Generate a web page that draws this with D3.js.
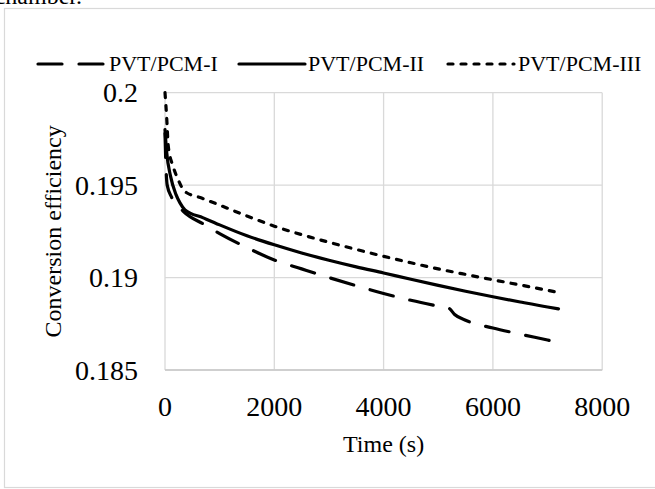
<!DOCTYPE html>
<html>
<head>
<meta charset="utf-8">
<script src="https://cdn.jsdelivr.net/npm/d3@7"></script>
<style>
  html, body { margin: 0; padding: 0; background: #fff; }
  svg { display: block; font-family: "Liberation Serif", "Times New Roman", serif; }
</style>
</head>
<body>
<svg id="chart" width="655" height="489"></svg>
<script>
// Conversion efficiency of the three PVT/PCM configurations over time
const seriesNames = ["PVT/PCM-I", "PVT/PCM-II", "PVT/PCM-III"];

const timeI = [0, 15, 40, 120, 330, 730, 1000, 1500, 2000, 2500, 3000, 3500, 4000, 4500, 5000, 5200, 5300, 5500, 6000, 6500, 7000, 7200];
const effI  = [0.1978, 0.1962, 0.1950, 0.19435, 0.19360, 0.19285, 0.19238, 0.19162, 0.19095, 0.19047, 0.19000, 0.18956, 0.18914, 0.18877, 0.18845, 0.18833, 0.18800, 0.18769, 0.18727, 0.18694, 0.18662, 0.18649];

const timeII = [0, 30, 100, 200, 274, 366, 700, 1000, 1500, 2000, 2500, 3000, 3500, 4000, 4500, 5000, 5500, 6000, 6500, 7000, 7200];
const effII  = [0.1980, 0.1968, 0.1955, 0.1945, 0.19404, 0.19366, 0.19323, 0.19285, 0.19226, 0.19177, 0.19133, 0.19094, 0.19058, 0.19025, 0.18991, 0.18958, 0.18926, 0.18896, 0.18868, 0.18841, 0.18831];

const timeIII = [0, 30, 60, 150, 240, 366, 670, 1000, 1500, 2000, 2500, 3000, 3500, 4000, 4500, 5000, 5500, 6000, 6500, 7000, 7200];
const effIII  = [0.2000, 0.1987, 0.1971, 0.1960, 0.1953, 0.19465, 0.19430, 0.19392, 0.19333, 0.19278, 0.19232, 0.19191, 0.19152, 0.19115, 0.19080, 0.19047, 0.19017, 0.18988, 0.18960, 0.18931, 0.18919];

const xTicks = [0, 2000, 4000, 6000, 8000];
const yTicks = [0.185, 0.19, 0.195, 0.2];
const yTickLabels = ["0.185", "0.19", "0.195", "0.2"];

const svg = d3.select("#chart");

// Caption line of the surrounding text, cut by the top edge
svg.append("text")
  .attr("x", 82).attr("y", 4)
  .attr("text-anchor", "end")
  .attr("font-size", 24)
  .attr("fill", "#000")
  .text("chamber.");

// Chart frame
svg.append("rect")
  .attr("x", 4.5).attr("y", 8.5)
  .attr("width", 700).attr("height", 479)
  .attr("fill", "none")
  .attr("stroke", "#d9d9d9")
  .attr("stroke-width", 1.2);

const x = d3.scaleLinear().domain([0, 8000]).range([165, 602.2]);
const y = d3.scaleLinear().domain([0.185, 0.2]).range([370, 92.7]);

// Gridlines
const grid = svg.append("g");
grid.selectAll("line.h").data(yTicks).join("line")
  .attr("x1", x(0)).attr("x2", x(8000))
  .attr("y1", d => y(d)).attr("y2", d => y(d))
  .attr("stroke", "#d9d9d9").attr("stroke-width", 1.3);
grid.selectAll("line.v").data(xTicks).join("line")
  .attr("x1", d => x(d)).attr("x2", d => x(d))
  .attr("y1", y(0.2)).attr("y2", y(0.185))
  .attr("stroke", "#d9d9d9").attr("stroke-width", 1.3);
// Horizontal axis line
svg.append("line")
  .attr("x1", x(0)).attr("x2", x(8000))
  .attr("y1", y(0.185)).attr("y2", y(0.185))
  .attr("stroke", "#c8c8c8").attr("stroke-width", 1.6);

// Tick labels
svg.append("g").selectAll("text").data(yTicks).join("text")
  .attr("x", 138).attr("y", d => y(d) + 9.5)
  .attr("text-anchor", "end")
  .attr("font-size", 28)
  .text((d, i) => yTickLabels[i]);

svg.append("g").selectAll("text").data(xTicks).join("text")
  .attr("x", d => x(d)).attr("y", 416)
  .attr("text-anchor", "middle")
  .attr("font-size", 28)
  .text(d => d);

// Axis titles
svg.append("text")
  .attr("x", (x(0) + x(8000)) / 2).attr("y", 452)
  .attr("text-anchor", "middle")
  .attr("font-size", 24)
  .text("Time (s)");

svg.append("text")
  .attr("transform", `translate(61, ${(y(0.2) + y(0.185)) / 2}) rotate(-90)`)
  .attr("text-anchor", "middle")
  .attr("font-size", 24)
  .text("Conversion efficiency");

// Series lines
const styles = [
  { dash: "24,17", cap: "round" },
  { dash: null, cap: "round" },
  { dash: "5,8", cap: "round" }
];
const series = [
  d3.zip(timeI, effI),
  d3.zip(timeII, effII),
  d3.zip(timeIII, effIII)
];

const line = d3.line()
  .x(d => x(d[0]))
  .y(d => y(d[1]))
  .curve(d3.curveMonotoneX);

const plot = svg.append("g");
series.forEach((pts, i) => {
  plot.append("path")
    .datum(pts)
    .attr("d", line)
    .attr("fill", "none")
    .attr("stroke", "#000")
    .attr("stroke-width", 3.2)
    .attr("stroke-linecap", styles[i].cap)
    .attr("stroke-linejoin", "round")
    .attr("stroke-dasharray", styles[i].dash);
});

// Legend
const legendItems = [
  { x1: 38, x2: 107, tx: 109 },
  { x1: 239, x2: 305, tx: 308 },
  { x1: 448, x2: 514, tx: 518 }
];
const legend = svg.append("g");
legendItems.forEach((it, i) => {
  legend.append("line")
    .attr("x1", it.x1).attr("x2", it.x2)
    .attr("y1", 64).attr("y2", 64)
    .attr("stroke", "#000")
    .attr("stroke-width", 3.2)
    .attr("stroke-linecap", styles[i].cap)
    .attr("stroke-dasharray", styles[i].dash);
  legend.append("text")
    .attr("x", it.tx).attr("y", 71)
    .attr("font-size", 22)
    .text(seriesNames[i]);
});
</script>
</body>
</html>
